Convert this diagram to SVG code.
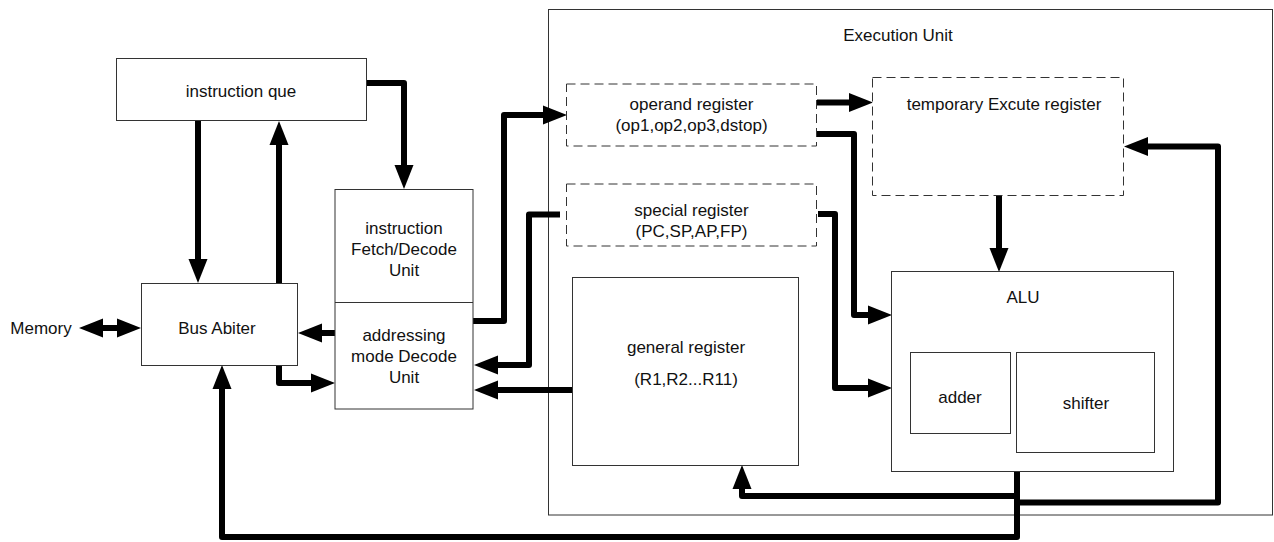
<svg xmlns="http://www.w3.org/2000/svg" width="1274" height="542" viewBox="0 0 1274 542">
<style>
.box{fill:#fff;stroke:#333;stroke-width:1}
.dash{fill:#fff;stroke:#333;stroke-width:1;stroke-dasharray:9,5}
.t{font-family:"Liberation Sans",Arial,sans-serif;font-size:17px;fill:#111;text-anchor:middle}
.c{fill:none;stroke:#000;stroke-width:6;stroke-linejoin:round}
.a{marker-end:url(#ah)}
</style>
<defs>
<marker id="ah" markerUnits="userSpaceOnUse" markerWidth="24" markerHeight="20" refX="0" refY="9.5" orient="auto-start-reverse" viewBox="0 0 24 19" overflow="visible">
<path d="M0,0 L24,9.5 L0,19 Z" fill="#000"/>
</marker>
</defs>
<rect width="1274" height="542" fill="#fff"/>
<g id="exec-unit">
<rect class="box" x="548.5" y="9.5" width="724" height="505.5" fill="none"/>
<text class="t" x="898" y="41">Execution Unit</text>
</g>
<g id="connectors">
<path class="c" d="M103,328 H117" marker-start="url(#ah)" marker-end="url(#ah)"/>
<path class="c a" d="M198,121 V259"/>
<path class="c a" d="M279,283 V145"/>
<path class="c a" d="M367,83 H404 V165"/>
<path class="c a" d="M335,333 H322"/>
<path class="c a" d="M279,365 V383 H311"/>
<path class="c a" d="M473,321 H504 V115 H543"/>
<path class="c a" d="M560,214.5 H529 V365 H498"/>
<path class="c a" d="M572,390 H498"/>
<path class="c a" d="M817,102.5 H849"/>
<path class="c a" d="M817,134 H854 V315 H868"/>
<path class="c a" d="M818,214 H835 V388 H868"/>
<path class="c a" d="M999,196 V248"/>
<path class="c a" d="M1017,471 V496 H742 V489"/>
<path class="c a" d="M1017,471 V502.5 H1218 V146.5 H1148"/>
<path class="c a" d="M1017,471 V537 H222 V389"/>
</g>
<g id="memory">
<text class="t" x="41" y="334">Memory</text>
</g>
<g id="instruction-que">
<rect class="box" x="116.5" y="58.5" width="250" height="62"/>
<text class="t" x="241" y="97">instruction que</text>
</g>
<g id="bus-abiter">
<rect class="box" x="141.5" y="283.5" width="156" height="82"/>
<text class="t" x="217" y="334">Bus Abiter</text>
</g>
<g id="fetch-decode">
<rect class="box" x="335" y="189.5" width="138" height="219.5"/>
<line x1="335" y1="302.5" x2="473" y2="302.5" stroke="#333" stroke-width="1"/>
<text class="t" x="404" y="234">instruction</text>
<text class="t" x="404" y="255">Fetch/Decode</text>
<text class="t" x="404" y="276">Unit</text>
<text class="t" x="404" y="341">addressing</text>
<text class="t" x="404" y="362">mode Decode</text>
<text class="t" x="404" y="383">Unit</text>
</g>
<g id="operand-register">
<rect class="dash" x="566.5" y="84" width="250" height="62"/>
<text class="t" x="691.5" y="110">operand register</text>
<text class="t" x="691.5" y="131">(op1,op2,op3,dstop)</text>
</g>
<g id="special-register">
<rect class="dash" x="566.5" y="184" width="250" height="62"/>
<text class="t" x="691.5" y="216">special register</text>
<text class="t" x="691.5" y="237">(PC,SP,AP,FP)</text>
</g>
<g id="temp-register">
<rect class="dash" x="872.5" y="77.5" width="251" height="118"/>
<text class="t" x="1004" y="110">temporary Excute register</text>
</g>
<g id="general-register">
<rect class="box" x="572.5" y="277.5" width="226" height="188"/>
<text class="t" x="686" y="353">general register</text>
<text class="t" x="686" y="385">(R1,R2...R11)</text>
</g>
<g id="alu">
<rect class="box" x="891.5" y="271.5" width="282" height="200"/>
<text class="t" x="1023" y="303">ALU</text>
</g>
<g id="adder">
<rect class="box" x="910.5" y="352.5" width="100" height="81"/>
<text class="t" x="960" y="403">adder</text>
</g>
<g id="shifter">
<rect class="box" x="1016.5" y="352.5" width="138" height="100"/>
<text class="t" x="1086" y="409">shifter</text>
</g>
</svg>
